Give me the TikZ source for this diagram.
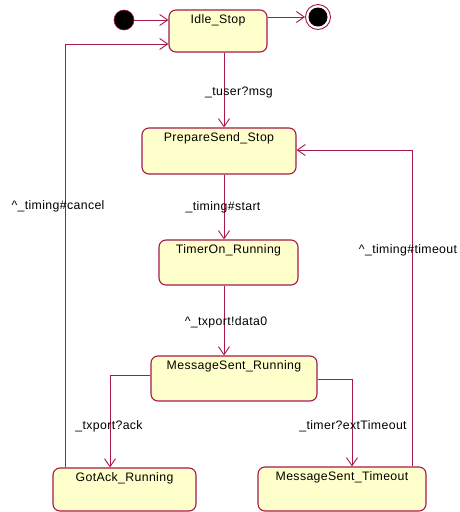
\documentclass[tikz,border=0pt]{standalone}
\usepackage{fontspec}
\setmainfont[LetterSpace=3]{Liberation Sans}
\usetikzlibrary{arrows.meta}
\definecolor{stline}{RGB}{165,25,75}
\definecolor{stfill}{RGB}{255,255,204}
\tikzset{
  state/.style={draw=stline, fill=stfill, line width=1.1pt, rounded corners=7pt,
    inner sep=0pt, minimum width=#1},
  stname/.style={anchor=north, yshift=-1.8pt, font=\fontsize{12.3}{14}\selectfont},
  trans/.style={draw=stline, line width=0.9pt,
    -{Straight Barb[length=8pt, width=11pt, line width=0.9pt]}},
  tlabel/.style={font=\fontsize{12.3}{14}\selectfont, inner sep=1pt},
  pseudo/.style={circle, fill=black, draw=stline, line width=0.6pt, inner sep=0pt}
}
\begin{document}
\begin{tikzpicture}[x=1pt, y=-1pt]
\useasboundingbox (0,0) rectangle (459,512);

% states
\node[state=98pt,  minimum height=42pt, label={[stname]north:Idle\_Stop}] (idle) at (218,31) {};
\node[state=154pt, minimum height=46pt, label={[stname]north:PrepareSend\_Stop}] (prep) at (219,151) {};
\node[state=139pt, minimum height=45pt, label={[stname]north:TimerOn\_Running}] (timer) at (228.5,262.5) {};
\node[state=166pt, minimum height=45pt, label={[stname]north:MessageSent\_Running}] (sent) at (234,378.5) {};
\node[state=143pt, minimum height=43pt, label={[stname]north:GotAck\_Running}] (gotack) at (124.5,489.5) {};
\node[state=168pt, minimum height=44pt, label={[stname]north:MessageSent\_Timeout}] (tmout) at (342,489) {};

% initial and final pseudo-states
\node[pseudo, minimum size=20pt] (init) at (124,20) {};
\node[circle, draw=stline, line width=0.9pt, fill=white, minimum size=25pt, inner sep=0pt] (final) at (318,17) {};
\node[pseudo, minimum size=19pt, draw=none] (finaldot) at (final) {};

% routing points
\coordinate (colA) at (224,0);
\coordinate (loopL) at (65,44);
\coordinate (loopR) at (412,150);
\coordinate (brL) at (110,375);
\coordinate (brR) at (352,379);

% transitions
\draw[trans] (init) -- (init -| idle.west);
\draw[trans] (idle.east |- final) -- (final);
\draw[trans] (idle.south -| colA) -- (prep.north -| colA);
\draw[trans] (prep.south -| colA) -- (timer.north -| colA);
\draw[trans] (timer.south -| colA) -- (sent.north -| colA);
\draw[trans] (sent.west |- brL) -| (gotack.north -| brL);
\draw[trans] (sent.east |- brR) -| (tmout.north -| brR);
\draw[trans] (gotack.north -| loopL) |- (idle.west |- loopL);
\draw[trans] (tmout.north -| loopR) |- (prep.east |- loopR);

% transition labels
\node[tlabel] (l1) at (239,92) {\_tuser?msg};
\node[tlabel] (l2) at (223,207) {\_timing\#start};
\node[tlabel] (l3) at (226,322) {\textasciicircum\_txport!data0};
\node[tlabel] (l4) at (109,426) {\_txport?ack};
\node[tlabel] (l5) at (353,426) {\_timer?extTimeout};
\node[tlabel] (l6) at (58,206) {\textasciicircum\_timing\#cancel};
\node[tlabel] (l7) at (408,250) {\textasciicircum\_timing\#timeout};
\end{tikzpicture}
\end{document}
